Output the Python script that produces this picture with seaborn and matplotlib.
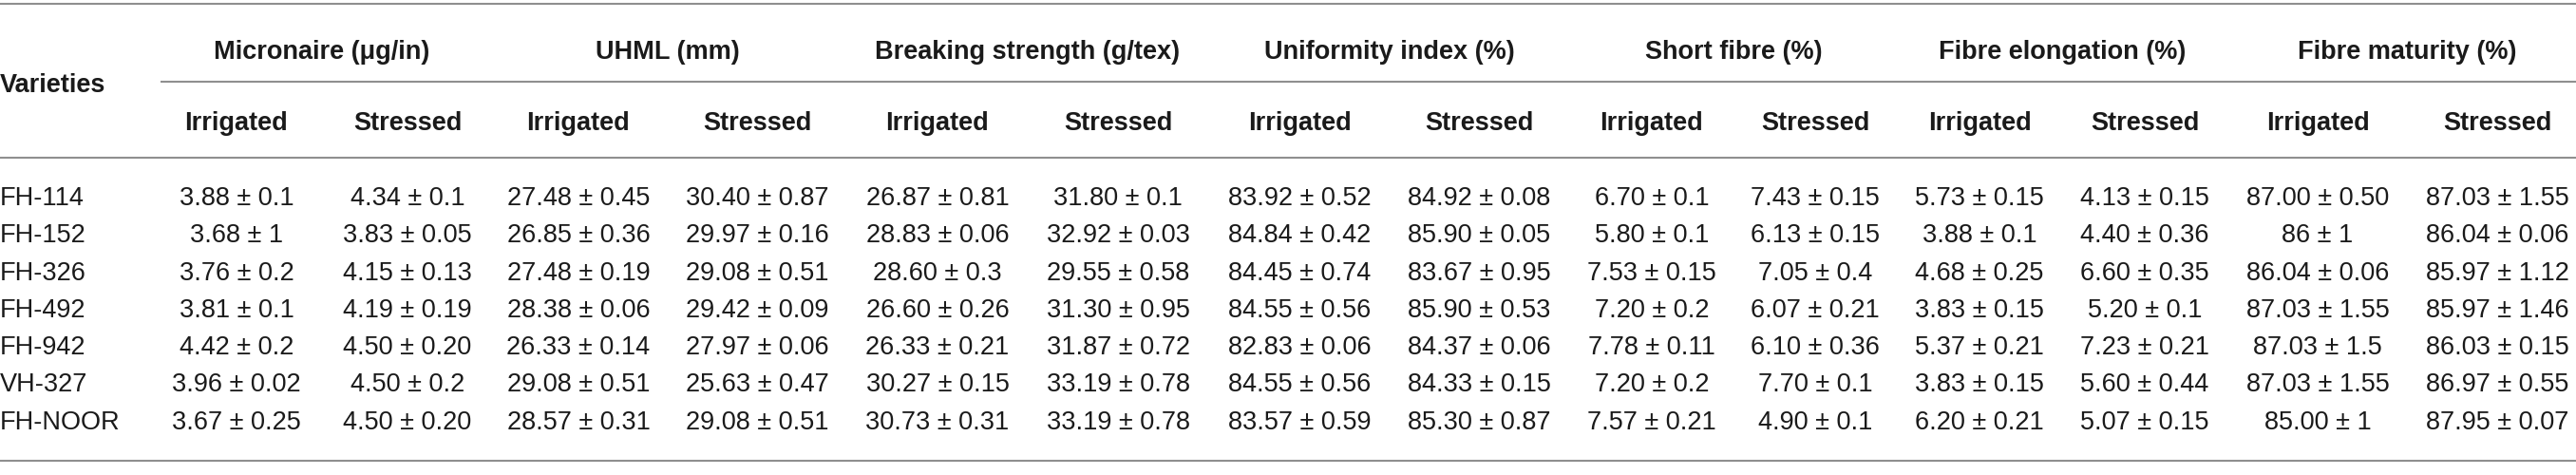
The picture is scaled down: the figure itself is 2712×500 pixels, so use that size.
import matplotlib
matplotlib.use("Agg")
import matplotlib.pyplot as plt
import seaborn as sns

# ---------------- data ----------------
varieties = ["FH-114", "FH-152", "FH-326", "FH-492", "FH-942", "VH-327", "FH-NOOR"]
traits = ["Micronaire (μg/in)", "UHML (mm)", "Breaking strength (g/tex)",
          "Uniformity index (%)", "Short fibre (%)", "Fibre elongation (%)",
          "Fibre maturity (%)"]
conditions = ["Irrigated", "Stressed"]

micronaire_irrigated = ["3.88 ± 0.1", "3.68 ± 1", "3.76 ± 0.2", "3.81 ± 0.1", "4.42 ± 0.2", "3.96 ± 0.02", "3.67 ± 0.25"]
micronaire_stressed = ["4.34 ± 0.1", "3.83 ± 0.05", "4.15 ± 0.13", "4.19 ± 0.19", "4.50 ± 0.20", "4.50 ± 0.2", "4.50 ± 0.20"]
uhml_irrigated = ["27.48 ± 0.45", "26.85 ± 0.36", "27.48 ± 0.19", "28.38 ± 0.06", "26.33 ± 0.14", "29.08 ± 0.51", "28.57 ± 0.31"]
uhml_stressed = ["30.40 ± 0.87", "29.97 ± 0.16", "29.08 ± 0.51", "29.42 ± 0.09", "27.97 ± 0.06", "25.63 ± 0.47", "29.08 ± 0.51"]
strength_irrigated = ["26.87 ± 0.81", "28.83 ± 0.06", "28.60 ± 0.3", "26.60 ± 0.26", "26.33 ± 0.21", "30.27 ± 0.15", "30.73 ± 0.31"]
strength_stressed = ["31.80 ± 0.1", "32.92 ± 0.03", "29.55 ± 0.58", "31.30 ± 0.95", "31.87 ± 0.72", "33.19 ± 0.78", "33.19 ± 0.78"]
uniformity_irrigated = ["83.92 ± 0.52", "84.84 ± 0.42", "84.45 ± 0.74", "84.55 ± 0.56", "82.83 ± 0.06", "84.55 ± 0.56", "83.57 ± 0.59"]
uniformity_stressed = ["84.92 ± 0.08", "85.90 ± 0.05", "83.67 ± 0.95", "85.90 ± 0.53", "84.37 ± 0.06", "84.33 ± 0.15", "85.30 ± 0.87"]
short_irrigated = ["6.70 ± 0.1", "5.80 ± 0.1", "7.53 ± 0.15", "7.20 ± 0.2", "7.78 ± 0.11", "7.20 ± 0.2", "7.57 ± 0.21"]
short_stressed = ["7.43 ± 0.15", "6.13 ± 0.15", "7.05 ± 0.4", "6.07 ± 0.21", "6.10 ± 0.36", "7.70 ± 0.1", "4.90 ± 0.1"]
elongation_irrigated = ["5.73 ± 0.15", "3.88 ± 0.1", "4.68 ± 0.25", "3.83 ± 0.15", "5.37 ± 0.21", "3.83 ± 0.15", "6.20 ± 0.21"]
elongation_stressed = ["4.13 ± 0.15", "4.40 ± 0.36", "6.60 ± 0.35", "5.20 ± 0.1", "7.23 ± 0.21", "5.60 ± 0.44", "5.07 ± 0.15"]
maturity_irrigated = ["87.00 ± 0.50", "86 ± 1", "86.04 ± 0.06", "87.03 ± 1.55", "87.03 ± 1.5", "87.03 ± 1.55", "85.00 ± 1"]
maturity_stressed = ["87.03 ± 1.55", "86.04 ± 0.06", "85.97 ± 1.12", "85.97 ± 1.46", "86.03 ± 0.15", "86.97 ± 0.55", "87.95 ± 0.07"]

columns = [micronaire_irrigated, micronaire_stressed, uhml_irrigated, uhml_stressed,
           strength_irrigated, strength_stressed, uniformity_irrigated, uniformity_stressed,
           short_irrigated, short_stressed, elongation_irrigated, elongation_stressed,
           maturity_irrigated, maturity_stressed]

# ---------------- layout (pixels) ----------------
W, H = 2712, 500
col_x = [249, 429, 609, 797, 987, 1177, 1368, 1557, 1739, 1911, 2084, 2258, 2440, 2629]
row0, row_step = 206, 39.3
cap_half = 10

sns.set_theme(style="white")
plt.rcParams['font.family'] = ['Liberation Sans', 'DejaVu Sans']

fig = plt.figure(figsize=(W / 100, H / 100), dpi=100)
ax = fig.add_axes([0, 0, 1, 1])
ax.set_xlim(0, W)
ax.set_ylim(H, 0)
ax.axis("off")

fs = 19.5
line_c = "#8f8f8f"
txt_c = "#1a1a1a"
lw = 1.5

# rules
for y, x0 in [(4, 0), (86, 169), (166, 0), (485, 0)]:
    ax.plot([x0, W], [y, y], color=line_c, lw=lw, solid_capstyle="butt")

# header
ax.text(0, 87 + cap_half, "Varieties", fontsize=fs, fontweight="bold",
        ha="left", va="baseline", color=txt_c)
for i, t in enumerate(traits):
    xc = (col_x[2 * i] + col_x[2 * i + 1]) / 2
    ax.text(xc, 52 + cap_half, t, fontsize=fs, fontweight="bold",
            ha="center", va="baseline", color=txt_c)
    for j, c in enumerate(conditions):
        ax.text(col_x[2 * i + j], 127 + cap_half, c, fontsize=fs, fontweight="bold",
                ha="center", va="baseline", color=txt_c)

# body
for r, v in enumerate(varieties):
    yb = row0 + r * row_step + cap_half
    ax.text(0, yb, v, fontsize=fs, ha="left", va="baseline", color=txt_c)
    for k, col in enumerate(columns):
        ax.text(col_x[k], yb, col[r], fontsize=fs, ha="center", va="baseline", color=txt_c)

fig.savefig("out.png", dpi=100, facecolor="white")
